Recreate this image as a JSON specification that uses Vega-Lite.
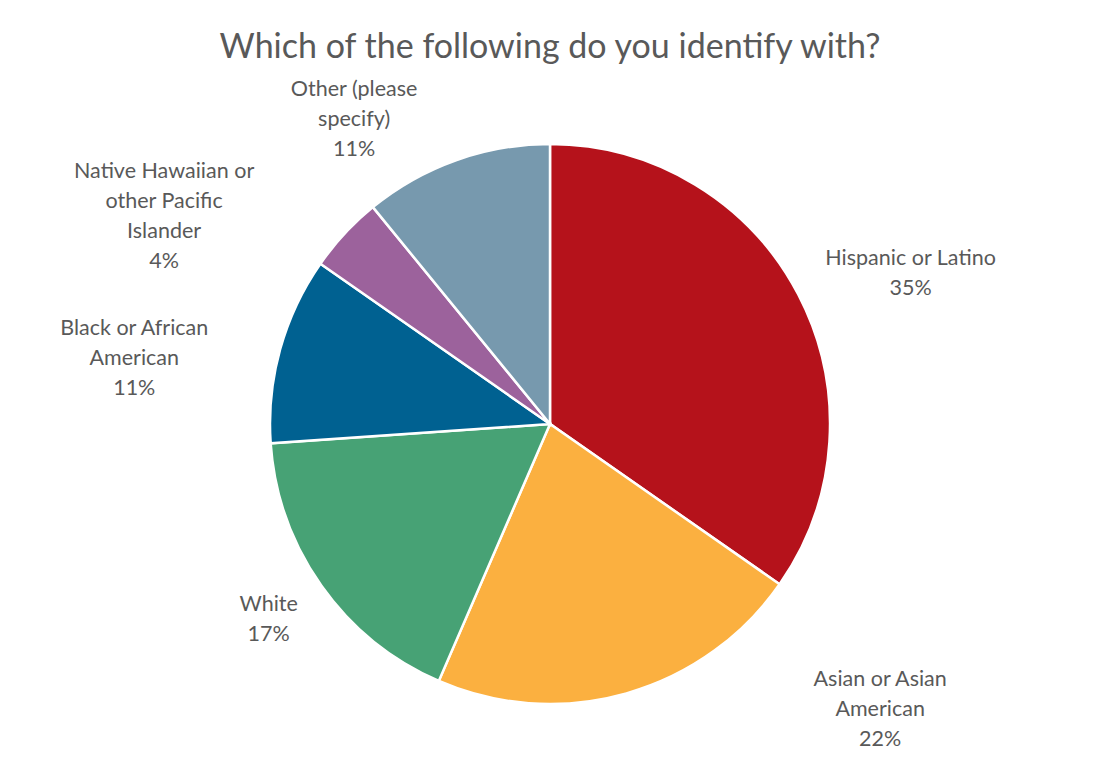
{
  "$schema": "https://vega.github.io/schema/vega-lite/v6.json",
  "width": 1100,
  "height": 706,
  "autosize": {"type": "none"},
  "padding": {"top": 71, "left": 0, "right": 0, "bottom": 0},
  "background": "white",
  "title": {
    "text": "Which of the following do you identify with?",
    "font": "Lato",
    "fontSize": 34,
    "fontWeight": "normal",
    "color": "#595959",
    "anchor": "middle",
    "offset": -32
  },
  "config": {"view": {"stroke": null}},
  "data": {
    "values": [
      {"idx": 1, "category": "Hispanic or Latino", "value": 34.7, "label": "Hispanic or Latino\n35%"},
      {"idx": 2, "category": "Asian or Asian American", "value": 21.8, "label": "Asian or Asian\nAmerican\n22%"},
      {"idx": 3, "category": "White", "value": 17.4, "label": "White\n17%"},
      {"idx": 4, "category": "Black or African American", "value": 10.8, "label": "Black or African\nAmerican\n11%"},
      {"idx": 5, "category": "Native Hawaiian or other Pacific Islander", "value": 4.4, "label": "Native Hawaiian or\nother Pacific\nIslander\n4%"},
      {"idx": 6, "category": "Other (please specify)", "value": 10.9, "label": "Other (please\nspecify)\n11%"}
    ]
  },
  "encoding": {
    "theta": {"field": "value", "type": "quantitative", "stack": true},
    "order": {"field": "idx", "type": "quantitative"}
  },
  "layer": [
    {
      "mark": {"type": "arc", "outerRadius": 280, "stroke": "white", "strokeWidth": 2.5},
      "encoding": {
        "color": {
          "field": "category",
          "type": "nominal",
          "legend": null,
          "scale": {
            "domain": ["Hispanic or Latino", "Asian or Asian American", "White", "Black or African American", "Native Hawaiian or other Pacific Islander", "Other (please specify)"],
            "range": ["#B5121B", "#FBB040", "#47A275", "#006191", "#9C629C", "#7799AE"]
          }
        }
      }
    },
    {
      "mark": {"type": "text", "radius": 392, "dx": 13, "dy": 16, "font": "Lato", "fontSize": 21.5, "lineHeight": 30, "lineBreak": "\n", "color": "#595959", "align": "center", "baseline": "middle"},
      "encoding": {"text": {"condition": {"test": "datum.idx === 1", "field": "label"}, "value": ""}}
    },
    {
      "mark": {"type": "text", "radius": 290, "dx": 251, "dy": -23, "font": "Lato", "fontSize": 21.5, "lineHeight": 30, "lineBreak": "\n", "color": "#595959", "align": "center", "baseline": "middle"},
      "encoding": {"text": {"condition": {"test": "datum.idx === 2", "field": "label"}, "value": ""}}
    },
    {
      "mark": {"type": "text", "radius": 341, "dx": -3, "dy": -16, "font": "Lato", "fontSize": 21.5, "lineHeight": 30, "lineBreak": "\n", "color": "#595959", "align": "center", "baseline": "middle"},
      "encoding": {"text": {"condition": {"test": "datum.idx === 3", "field": "label"}, "value": ""}}
    },
    {
      "mark": {"type": "text", "radius": 421, "dx": -10, "dy": 17, "font": "Lato", "fontSize": 21.5, "lineHeight": 30, "lineBreak": "\n", "color": "#595959", "align": "center", "baseline": "middle"},
      "encoding": {"text": {"condition": {"test": "datum.idx === 4", "field": "label"}, "value": ""}}
    },
    {
      "mark": {"type": "text", "radius": 439, "dx": -64, "dy": 46, "font": "Lato", "fontSize": 21.5, "lineHeight": 30, "lineBreak": "\n", "color": "#595959", "align": "center", "baseline": "middle"},
      "encoding": {"text": {"condition": {"test": "datum.idx === 5", "field": "label"}, "value": ""}}
    },
    {
      "mark": {"type": "text", "radius": 363, "dx": -74, "dy": 8, "font": "Lato", "fontSize": 21.5, "lineHeight": 30, "lineBreak": "\n", "color": "#595959", "align": "center", "baseline": "middle"},
      "encoding": {"text": {"condition": {"test": "datum.idx === 6", "field": "label"}, "value": ""}}
    }
  ]
}
